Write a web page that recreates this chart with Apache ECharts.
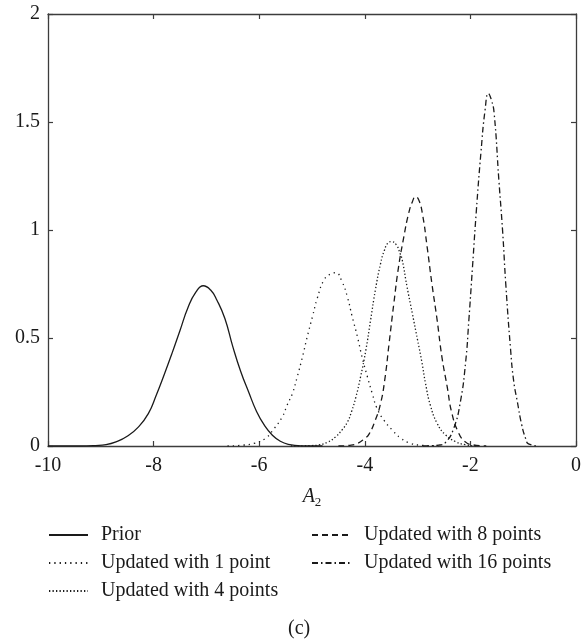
<!DOCTYPE html>
<html>
<head>
<meta charset="utf-8">
<script src="https://cdn.jsdelivr.net/npm/echarts@6/dist/echarts.min.js"></script>
<style>
  html, body { margin: 0; padding: 0; background: #fff; }
  #chart { width: 584px; height: 642px; }
</style>
</head>
<body>
<div id="chart"></div>
<script>
// names shown in the legend
const seriesNames = ['Prior', 'Updated with 1 point', 'Updated with 4 points', 'Updated with 8 points', 'Updated with 16 points'];
const xTicks = [-10, -8, -6, -4, -2, 0];
const yTicks = [0, 0.5, 1, 1.5, 2];

// [A2, density]
const prior = [
  [-10, 0], [-9.4, 0], [-9.1, 0.002], [-8.9, 0.006], [-8.7, 0.02], [-8.5, 0.045], [-8.3, 0.085],
  [-8.1, 0.15], [-7.95, 0.235], [-7.8, 0.33], [-7.65, 0.43], [-7.5, 0.535], [-7.35, 0.64],
  [-7.2, 0.712], [-7.06, 0.742], [-6.92, 0.722], [-6.8, 0.675], [-6.65, 0.59], [-6.5, 0.46],
  [-6.35, 0.345], [-6.2, 0.25], [-6.05, 0.16], [-5.9, 0.095], [-5.75, 0.05], [-5.6, 0.022],
  [-5.45, 0.008], [-5.2, 0.001], [-4.8, 0],
];
const onePoint = [
  [-6.6, 0], [-6.3, 0.004], [-6.1, 0.012], [-5.88, 0.036], [-5.72, 0.08], [-5.56, 0.136],
  [-5.47, 0.19], [-5.37, 0.244], [-5.28, 0.32], [-5.18, 0.413], [-5.09, 0.506], [-4.99, 0.6],
  [-4.9, 0.684], [-4.77, 0.77], [-4.65, 0.796], [-4.55, 0.802], [-4.43, 0.76], [-4.33, 0.69],
  [-4.24, 0.6], [-4.14, 0.506], [-4.05, 0.41], [-3.95, 0.32], [-3.86, 0.244], [-3.77, 0.175],
  [-3.64, 0.12], [-3.48, 0.074], [-3.32, 0.036], [-3.13, 0.012], [-2.9, 0.003], [-2.6, 0],
];
const fourPoints = [
  [-5.4, 0], [-5.0, 0.002], [-4.87, 0.005], [-4.7, 0.018], [-4.55, 0.043], [-4.43, 0.075],
  [-4.33, 0.11], [-4.25, 0.16], [-4.17, 0.225], [-4.08, 0.32], [-3.98, 0.444], [-3.89, 0.583],
  [-3.8, 0.722], [-3.7, 0.846], [-3.63, 0.905], [-3.56, 0.94], [-3.49, 0.946], [-3.4, 0.93],
  [-3.33, 0.89], [-3.29, 0.86], [-3.2, 0.737], [-3.1, 0.614], [-3.0, 0.49], [-2.92, 0.39],
  [-2.85, 0.29], [-2.76, 0.19], [-2.63, 0.105], [-2.47, 0.051], [-2.28, 0.02], [-2.1, 0.006],
  [-1.9, 0],
];
const eightPoints = [
  [-4.5, 0], [-4.3, 0.003], [-4.14, 0.012], [-4.0, 0.035], [-3.92, 0.055], [-3.8, 0.12],
  [-3.7, 0.198], [-3.62, 0.31], [-3.54, 0.475], [-3.45, 0.66], [-3.36, 0.83], [-3.26, 0.969],
  [-3.17, 1.077], [-3.1, 1.13], [-3.04, 1.154], [-2.98, 1.14], [-2.91, 1.077], [-2.82, 0.923],
  [-2.73, 0.753], [-2.63, 0.583], [-2.54, 0.413], [-2.44, 0.275], [-2.35, 0.151], [-2.22, 0.059],
  [-2.1, 0.02], [-1.95, 0.005], [-1.7, 0],
];
const sixteenPoints = [
  [-2.9, 0], [-2.6, 0.004], [-2.47, 0.017], [-2.32, 0.079], [-2.19, 0.204], [-2.09, 0.389],
  [-2.03, 0.58], [-1.96, 0.83], [-1.89, 1.08], [-1.8, 1.36], [-1.72, 1.56], [-1.66, 1.632],
  [-1.6, 1.6], [-1.55, 1.54], [-1.46, 1.228], [-1.39, 0.995], [-1.33, 0.75], [-1.24, 0.45],
  [-1.18, 0.3], [-1.11, 0.204], [-1.03, 0.1], [-0.95, 0.032], [-0.9, 0.01], [-0.7, 0],
];

const font = 'Liberation Serif';
const ink = '#1a1a1a';
const axisColor = '#3c3c3c';

function lineSeries(name, data, type) {
  return {
    name: name,
    type: 'line',
    data: data,
    symbol: 'none',
    smooth: 0.5,
    color: ink,
    lineStyle: { color: ink, width: 1.3, type: type, cap: 'butt' },
    animation: false,
  };
}

function frameAxis() {
  return {
    axisLine: { show: true, onZero: false, lineStyle: { color: axisColor, width: 1.3 } },
    axisTick: { show: true, inside: true, length: 5, lineStyle: { color: axisColor, width: 1.2 } },
    splitLine: { show: false },
  };
}

// legend keys show only the line, no marker
function legendBox(names, left) {
  return {
    data: names,
    orient: 'vertical',
    left: left,
    top: 520,
    itemWidth: 39,
    itemHeight: 12,
    itemGap: 8,
    selectedMode: false,
    itemStyle: { opacity: 0 },
    textStyle: { fontFamily: font, fontSize: 20, color: ink, lineHeight: 20, padding: [0, 0, 0, 8] },
  };
}

let chartDom = document.getElementById('chart');
let myChart = echarts.init(chartDom);

let options = {
  animation: false,
  backgroundColor: '#fff',
  grid: { left: 48, right: 6, top: 14, bottom: 196 },
  xAxis: [
    {
      ...frameAxis(),
      type: 'value',
      min: xTicks[0],
      max: xTicks[xTicks.length - 1],
      interval: 2,
      axisLabel: { fontFamily: font, fontSize: 20, color: ink, margin: 10 },
      name: '{i|A}{s|2}',
      nameLocation: 'middle',
      nameGap: 40,
      nameTextStyle: {
        rich: {
          i: { fontFamily: font, fontStyle: 'italic', fontSize: 20, color: ink, lineHeight: 22 },
          s: { fontFamily: font, fontSize: 13, color: ink, lineHeight: 22, padding: [12, 0, 0, 0] },
        },
      },
    },
    {
      ...frameAxis(),
      type: 'value',
      position: 'top',
      min: xTicks[0],
      max: xTicks[xTicks.length - 1],
      interval: 2,
      axisLabel: { show: false },
    },
  ],
  yAxis: [
    {
      ...frameAxis(),
      type: 'value',
      min: yTicks[0],
      max: yTicks[yTicks.length - 1],
      interval: 0.5,
      axisLabel: { fontFamily: font, fontSize: 20, color: ink, margin: 8 },
    },
    {
      ...frameAxis(),
      type: 'value',
      position: 'right',
      min: yTicks[0],
      max: yTicks[yTicks.length - 1],
      interval: 0.5,
      axisLabel: { show: false },
    },
  ],
  legend: [
    legendBox(seriesNames.slice(0, 3), 43),
    legendBox(seriesNames.slice(3), 306),
  ],
  title: {
    text: '(c)',
    left: 283,
    top: 614,
    textStyle: { fontFamily: font, fontSize: 20, fontWeight: 'normal', color: ink },
  },
  series: [
    lineSeries(seriesNames[0], prior, 'solid'),
    lineSeries(seriesNames[1], onePoint, [1.3, 4]),
    lineSeries(seriesNames[2], fourPoints, [1.3, 2.2]),
    lineSeries(seriesNames[3], eightPoints, [6, 4]),
    lineSeries(seriesNames[4], sixteenPoints, [6, 3, 1.5, 3]),
  ],
};

myChart.setOption(options);
</script>
</body>
</html>
